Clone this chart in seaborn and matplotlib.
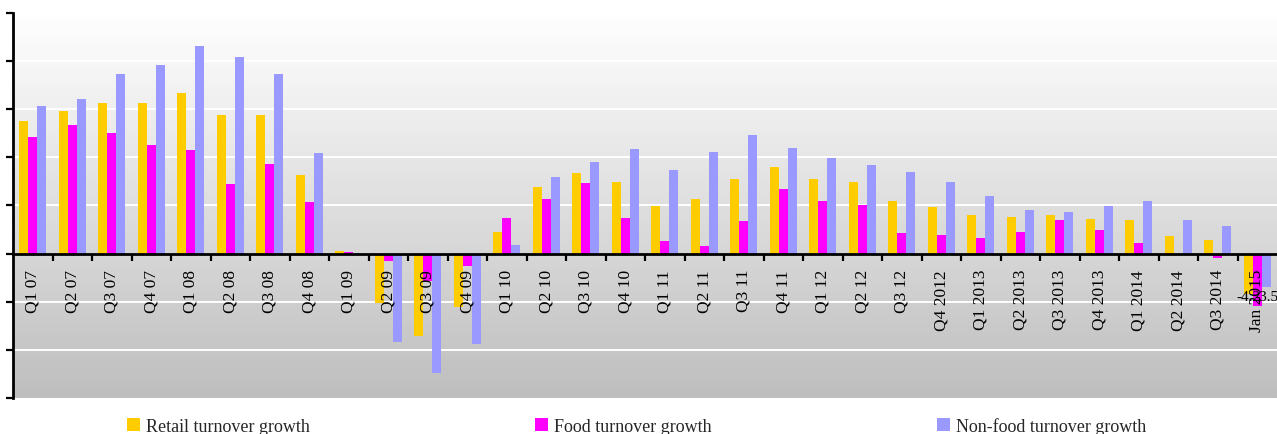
import numpy as np
import pandas as pd
import matplotlib
matplotlib.use("Agg")
import matplotlib.pyplot as plt
from matplotlib.colors import LinearSegmentedColormap
from matplotlib.ticker import MultipleLocator
import seaborn as sns

# Quarterly turnover growth, % y/y
periods = ["Q1 07", "Q2 07", "Q3 07", "Q4 07", "Q1 08", "Q2 08", "Q3 08", "Q4 08",
           "Q1 09", "Q2 09", "Q3 09", "Q4 09", "Q1 10", "Q2 10", "Q3 10", "Q4 10",
           "Q1 11", "Q2 11", "Q3 11", "Q4 11", "Q1 12", "Q2 12", "Q3 12", "Q4 2012",
           "Q1 2013", "Q2 2013", "Q3 2013", "Q4 2013", "Q1 2014", "Q2 2014", "Q3 2014",
           "Jan 2015"]
retail = [13.8, 14.8, 15.7, 15.7, 16.7, 14.4, 14.4, 8.2, 0.3, -5.1, -8.6, -5.5,
          2.2, 6.9, 8.4, 7.4, 4.9, 5.7, 7.8, 9.0, 7.8, 7.4, 5.5,
          4.8, 4.0, 3.8, 4.0, 3.6, 3.5, 1.8, 1.4, -4.2]
food = [12.1, 13.4, 12.5, 11.3, 10.8, 7.2, 9.3, 5.4, 0.2, -0.8, -2.8, -1.3,
        3.7, 5.7, 7.3, 3.7, 1.3, 0.8, 3.4, 6.7, 5.5, 5.1, 2.1,
        1.9, 1.6, 2.2, 3.5, 2.5, 1.1, 0.0, -0.5, -5.4]
nonfood = [15.3, 16.1, 18.7, 19.6, 21.6, 20.4, 18.7, 10.5, 0.1, -9.2, -12.4, -9.4,
           0.9, 8.0, 9.5, 10.9, 8.7, 10.6, 12.3, 11.0, 9.9, 9.2, 8.5,
           7.4, 6.0, 4.5, 4.3, 4.9, 5.5, 3.5, 2.9, -3.5]

series_names = ["Retail turnover growth", "Food turnover growth", "Non-food turnover growth"]
series_colors = ["#FFCC00", "#FF00FF", "#9999FF"]

df = pd.DataFrame({
    "period": periods * 3,
    "series": np.repeat(series_names, len(periods)),
    "value": retail + food + nonfood,
})

sns.set_style("white")
plt.rcParams["font.family"] = ["Liberation Serif", "DejaVu Serif"]

W, H = 1277, 435
fig = plt.figure(figsize=(W / 100, H / 100), dpi=100)
ax = fig.add_axes([13 / W, 1 - 399 / H, 1 - 13 / W, (399 - 14) / H])

# vertical grey gradient behind the plot area
grad = np.linspace(0, 1, 256).reshape(-1, 1)
bg_cmap = LinearSegmentedColormap.from_list("bg", ["#ffffff", "#bebebe"])
ax.imshow(grad, cmap=bg_cmap, aspect="auto", extent=[0, 1, 0, 1],
          transform=ax.transAxes, origin="upper", zorder=-10)

sns.barplot(data=df, x="period", y="value", hue="series", hue_order=series_names,
            palette=series_colors, saturation=1, width=0.68, errorbar=None,
            linewidth=0, ax=ax)

# bars sit under the axis so the category labels read on top of them
for container in ax.containers:
    for bar in container:
        bar.set_zorder(1)
ax.set_axisbelow(False)

leg = ax.get_legend()
handles = leg.legend_handles
labels = [t.get_text() for t in leg.get_texts()]
leg.remove()

ax.set_xlim(-0.5, len(periods) - 0.5)
ax.set_ylim(-15, 25)
ax.set_xlabel("")
ax.set_ylabel("")

# white horizontal gridlines behind the bars
for yv in [-10, -5, 5, 10, 15, 20]:
    ax.axhline(yv, color="white", linewidth=1.4, zorder=0.5)

for side in ["top", "right"]:
    ax.spines[side].set_visible(False)
ax.spines["left"].set_linewidth(2)
ax.spines["left"].set_color("black")
ax.spines["bottom"].set_position(("data", 0))
ax.spines["bottom"].set_linewidth(2)
ax.spines["bottom"].set_color("black")

ax.yaxis.set_major_locator(MultipleLocator(5))
ax.tick_params(axis="y", which="major", left=True, direction="out", length=5,
               width=1.6, color="black", labelleft=False)

ax.set_xticks(range(len(periods)))
ax.set_xticklabels(periods, rotation=90)
ax.set_xticks(np.arange(0.5, len(periods) - 1, 1), minor=True)
ax.tick_params(axis="x", which="major", bottom=True, length=0, pad=11,
               labelsize=12.5, labelcolor="black")
ax.tick_params(axis="x", which="minor", bottom=True, direction="out", length=5,
               width=1.6, color="black")

# value labels on the latest month
last = len(periods) - 1
for container, vals, pad in [(ax.containers[0], retail, -3), (ax.containers[2], nonfood, 2)]:
    lab = [""] * last + [f"{vals[last]:.1f}"]
    ax.bar_label(container, labels=lab, padding=pad, fontsize=11, color="black")

fig.legend(handles, labels, loc="center left", bbox_to_anchor=(127 / W, 1 - 427 / H),
           ncol=3, frameon=False, fontsize=13, handlelength=0.7, handleheight=0.75,
           handletextpad=0.33, columnspacing=12.5, borderpad=0, borderaxespad=0)

fig.savefig("out.png", dpi=100, facecolor="white")
